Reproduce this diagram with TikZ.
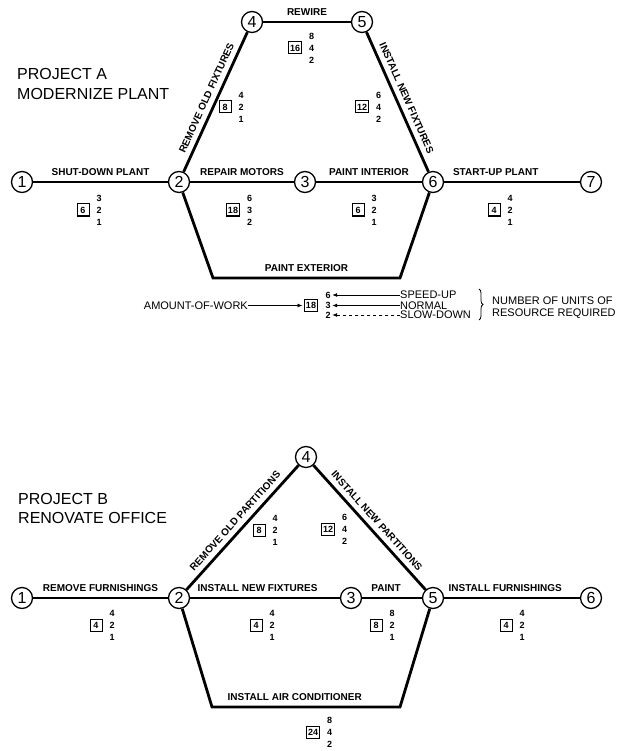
\documentclass[tikz,border=0pt]{standalone}
\usepackage{fontspec}
\setmainfont{Liberation Sans}
\usetikzlibrary{arrows.meta,positioning,decorations.pathreplacing}

\begin{document}
\begin{tikzpicture}[
  x=1pt, y=-1pt,
  ev/.style ={draw, circle, line width=1.3pt, fill=white, inner sep=0pt,
              minimum size=21pt, font=\fontsize{16}{16}\selectfont},
  act/.style={line width=2.8pt, line join=miter},
  lbl/.style={font=\bfseries\fontsize{10}{10}\selectfont, inner sep=2pt, above=3pt},
  wk/.style ={draw, line width=1pt, inner sep=1.5pt, minimum size=12pt,
              font=\bfseries\fontsize{9}{9}\selectfont},
  req/.style={align=center, inner sep=0pt, font=\bfseries\fontsize{9}{12}\selectfont},
  ttl/.style={anchor=west, inner sep=0pt, font=\fontsize{16}{16}\selectfont},
  leg/.style={inner sep=0pt, font=\fontsize{11}{11}\selectfont},
  arr/.style={-{Latex[length=5pt,width=4pt]}, line width=0.8pt, shorten >=1.5pt}
]
\useasboundingbox (0,0) rectangle (622,751);

% project A
\node[ttl] (ta1) at (17,74) {PROJECT A};
\node[ttl] (ta2) at (17,94) {MODERNIZE PLANT};

\node[ev] (a1) at (22,182)  {1};
\node[ev] (a2) at (179,182) {2};
\node[ev] (a3) at (305,182) {3};
\node[ev] (a4) at (252,22)  {4};
\node[ev] (a5) at (362,22)  {5};
\node[ev] (a6) at (433,182) {6};
\node[ev] (a7) at (591,182) {7};
\coordinate (ax1) at (213,278);
\coordinate (ax2) at (400,278);

\draw[act] (a1) -- node[lbl] {SHUT-DOWN PLANT} (a2);
\draw[act] (a2) -- node[lbl] {REPAIR MOTORS} (a3);
\draw[act] (a3) -- node[lbl] {PAINT INTERIOR} (a6);
\draw[act] (a6) -- node[lbl, pos=0.38] {START-UP PLANT} (a7);
\draw[act] (a2) -- node[lbl, sloped] {REMOVE OLD FIXTURES} (a4);
\draw[act] (a4) -- node[lbl] {REWIRE} (a5);
\draw[act] (a5) -- node[lbl, sloped] {INSTALL NEW FIXTURES} (a6);
\draw[act] (a2) -- (ax1) -- node[lbl] {PAINT EXTERIOR} (ax2) -- (a6);

\node[wk] (wa12) at (83,210) {6};
\node[req, right=7pt of wa12] (ra12) {3\\2\\1};
\node[wk] (wa23) at (233,210) {18};
\node[req, right=7pt of wa23] (ra23) {6\\3\\2};
\node[wk] (wa36) at (358,210) {6};
\node[req, right=7pt of wa36] (ra36) {3\\2\\1};
\node[wk] (wa67) at (494,210) {4};
\node[req, right=7pt of wa67] (ra67) {4\\2\\1};
\node[wk] (wa24) at (225,107) {8};
\node[req, right=7pt of wa24] (ra24) {4\\2\\1};
\node[wk] (wa56) at (362,107) {12};
\node[req, right=7pt of wa56] (ra56) {6\\4\\2};
\node[wk] (wa45) at (295,48) {16};
\node[req, right=7pt of wa45] (ra45) {8\\4\\2};

% legend
\node[leg, anchor=east] (amt) at (248,305.5) {AMOUNT-OF-WORK};
\node[wk] (w18) at (311,305.5) {18};
\node[req] (u6) at (328,295)   {6};
\node[req] (u3) at (328,305.5) {3};
\node[req] (u2) at (328,315)   {2};
\node[leg, anchor=west] (spd) at (400,295)   {SPEED-UP};
\node[leg, anchor=west] (nrm) at (400,305.5) {NORMAL};
\node[leg, anchor=west] (slw) at (400,315)   {SLOW-DOWN};
\draw[arr] (amt) -- (w18);
\draw[arr] (spd) -- (u6);
\draw[arr] (nrm) -- (u3);
\draw[arr, dashed] (slw) -- (u2);
\coordinate (bt) at (479,289);
\coordinate (bb) at (479,320);
\draw[decorate, decoration={brace, amplitude=4pt}, line width=0.8pt] (bt) -- (bb);
\node[leg, anchor=west] (nu1) at (492,300.5) {NUMBER OF UNITS OF};
\node[leg, anchor=west] (nu2) at (492,313.5) {RESOURCE REQUIRED};

% project B
\node[ttl] (tb1) at (18,499) {PROJECT B};
\node[ttl] (tb2) at (18,518) {RENOVATE OFFICE};

\node[ev] (b1) at (22,598)  {1};
\node[ev] (b2) at (179,598) {2};
\node[ev] (b3) at (351,598) {3};
\node[ev] (b4) at (306,457) {4};
\node[ev] (b5) at (433,598) {5};
\node[ev] (b6) at (591,598) {6};
\coordinate (bx1) at (212,707);
\coordinate (bx2) at (400,707);

\draw[act] (b1) -- node[lbl] {REMOVE FURNISHINGS} (b2);
\draw[act] (b2) -- node[lbl, pos=0.45] {INSTALL NEW FIXTURES} (b3);
\draw[act] (b3) -- node[lbl, pos=0.4] {PAINT} (b5);
\draw[act] (b5) -- node[lbl, pos=0.45] {INSTALL FURNISHINGS} (b6);
\draw[act] (b2) -- node[lbl, sloped] {REMOVE OLD PARTITIONS} (b4);
\draw[act] (b4) -- node[lbl, sloped] {INSTALL NEW PARTITIONS} (b5);
\draw[act] (b2) -- (bx1) -- node[lbl, pos=0.44] {INSTALL AIR CONDITIONER} (bx2) -- (b5);

\node[wk] (wb12) at (96,625) {4};
\node[req, right=7pt of wb12] (rb12) {4\\2\\1};
\node[wk] (wb24) at (259,530) {8};
\node[req, right=7pt of wb24] (rb24) {4\\2\\1};
\node[wk] (wb23) at (256,625) {4};
\node[req, right=7pt of wb23] (rb23) {4\\2\\1};
\node[wk] (wb45) at (328,529) {12};
\node[req, right=7pt of wb45] (rb45) {6\\4\\2};
\node[wk] (wb35) at (376,625) {8};
\node[req, right=7pt of wb35] (rb35) {8\\2\\1};
\node[wk] (wb56) at (506,625) {4};
\node[req, right=7pt of wb56] (rb56) {4\\2\\1};
\node[wk] (wb25) at (313,732) {24};
\node[req, right=7pt of wb25] (rb25) {8\\4\\2};
\end{tikzpicture}
\end{document}
